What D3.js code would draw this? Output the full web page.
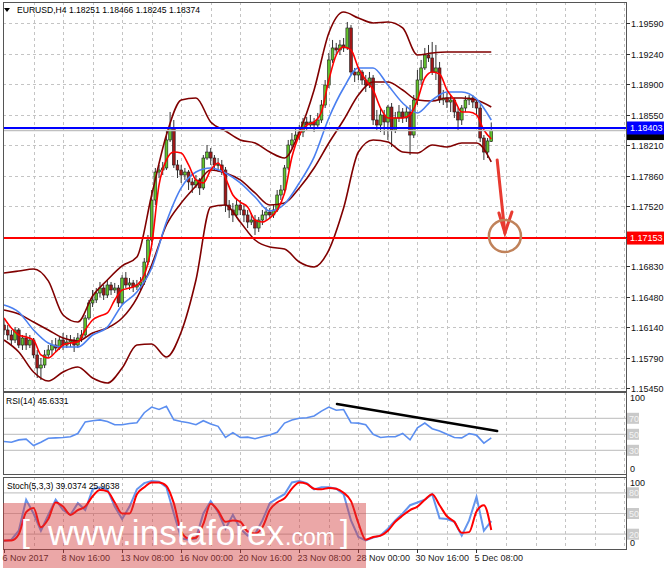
<!DOCTYPE html>
<html><head><meta charset="utf-8">
<script src="https://cdn.jsdelivr.net/npm/d3@7"></script>
<style>
body{margin:0;background:#fff}
svg{display:block}
text{font-family:"Liberation Sans",Arial,sans-serif}
</style>
</head><body>
<svg id="c" width="665" height="568"></svg>
<script>
// ---------------- DATA ----------------
const chartTitle = "EURUSD,H4  1.18251 1.18466 1.18245 1.18374";
const rsiTitle = "RSI(14) 45.6331";
const stochTitle = "Stoch(5,3,3) 39.0374 25.9638";
const timeLabels = ["6 Nov 2017","8 Nov 16:00","13 Nov 08:00","16 Nov 00:00","20 Nov 16:00","23 Nov 08:00","28 Nov 00:00","30 Nov 16:00","5 Dec 08:00"];
const timeLabelBars = [0,16,32,48,64,80,96,112,128];
const priceTicks = [1.19590,1.19240,1.18900,1.18550,1.18210,1.17860,1.17520,1.17170,1.16830,1.16480,1.16140,1.15790,1.15450];
const priceTickLabels = ["1.19590","1.19240","1.18900","1.18550","1.18210","1.17860","1.17520","1.17170","1.16830","1.16480","1.16140","1.15790","1.15450"];

const opens = [1.16165,1.16109,1.16052,1.15995,1.16109,1.15938,1.16018,1.15938,1.15995,1.15825,
1.15677,1.15711,1.15825,1.15882,1.15938,1.15904,1.15995,1.15938,1.15972,1.15995,
1.15938,1.16018,1.16052,1.16245,1.16416,1.16450,1.16529,1.16586,1.16506,1.16620,
1.16563,1.16586,1.16416,1.16699,1.16620,1.16643,1.16597,1.16620,1.16654,1.16881,
1.17131,1.17585,1.17903,1.17926,1.17949,1.18267,1.18403,1.17983,1.17926,1.17869,
1.17903,1.17790,1.17756,1.17813,1.17722,1.18062,1.18130,1.18062,1.17983,1.17983,
1.17926,1.17528,1.17472,1.17415,1.17528,1.17472,1.17415,1.17335,1.17358,1.17267,
1.17358,1.17415,1.17449,1.17415,1.17472,1.17642,1.17699,1.17949,1.18210,1.18267,
1.18323,1.18357,1.18471,1.18437,1.18471,1.18437,1.18494,1.18664,1.18891,1.19176,
1.19312,1.19289,1.19346,1.19312,1.19539,1.19039,1.19005,1.19039,1.18948,1.18891,
1.18971,1.18494,1.18437,1.18551,1.18471,1.18641,1.18380,1.18517,1.18585,1.18517,
1.18585,1.18323,1.18721,1.18948,1.19085,1.19232,1.19198,1.19039,1.19085,1.18721,
1.18744,1.18698,1.18721,1.18585,1.18494,1.18630,1.18721,1.18744,1.18698,1.18630,
1.18289,1.18130,1.18251];
const highs = [1.16245,1.16165,1.16109,1.16142,1.16131,1.16052,1.16075,1.16052,1.16018,1.15882,
1.15791,1.15882,1.15938,1.15995,1.16018,1.16029,1.16075,1.16052,1.16052,1.16029,
1.16075,1.16109,1.16279,1.16450,1.16563,1.16586,1.16654,1.16620,1.16677,1.16654,
1.16643,1.16620,1.16733,1.16767,1.16699,1.16677,1.16677,1.16710,1.16926,1.17188,
1.17699,1.17949,1.17983,1.18017,1.18380,1.18585,1.18494,1.18040,1.17983,1.17949,
1.17926,1.17835,1.17869,1.17835,1.18096,1.18210,1.18176,1.18096,1.18062,1.18040,
1.17960,1.17585,1.17551,1.17585,1.17585,1.17528,1.17472,1.17438,1.17415,1.17392,
1.17472,1.17505,1.17494,1.17528,1.17699,1.17756,1.17983,1.18267,1.18346,1.18403,
1.18437,1.18517,1.18528,1.18551,1.18517,1.18574,1.18721,1.18948,1.19255,1.19403,
1.19369,1.19403,1.19425,1.19607,1.19573,1.19085,1.19096,1.19062,1.19005,1.19039,
1.19005,1.18608,1.18630,1.18608,1.18664,1.18687,1.18585,1.18664,1.18630,1.18641,
1.18664,1.18778,1.19062,1.19176,1.19312,1.19346,1.19380,1.19346,1.19153,1.18835,
1.18801,1.18778,1.18744,1.18630,1.18664,1.18767,1.18778,1.18778,1.18744,1.18675,
1.18323,1.18289,1.18466];
const lows = [1.16052,1.15995,1.15938,1.15961,1.15904,1.15882,1.15882,1.15904,1.15791,1.15564,
1.15541,1.15677,1.15791,1.15825,1.15859,1.15882,1.15882,1.15904,1.15915,1.15859,
1.15904,1.15972,1.16018,1.16222,1.16370,1.16416,1.16483,1.16450,1.16472,1.16506,
1.16529,1.16370,1.16393,1.16586,1.16563,1.16540,1.16563,1.16563,1.16620,1.16847,
1.17108,1.17528,1.17835,1.17869,1.17926,1.18244,1.17949,1.17835,1.17779,1.17813,
1.17699,1.17665,1.17722,1.17642,1.17699,1.18040,1.17983,1.17926,1.17903,1.17869,
1.17449,1.17381,1.17335,1.17381,1.17415,1.17335,1.17267,1.17301,1.17188,1.17222,
1.17301,1.17358,1.17381,1.17381,1.17449,1.17585,1.17665,1.17926,1.18176,1.18233,
1.18267,1.18300,1.18380,1.18403,1.18357,1.18403,1.18460,1.18630,1.18857,1.19142,
1.19232,1.19232,1.19266,1.19289,1.19005,1.18925,1.18948,1.18891,1.18812,1.18857,
1.18437,1.18380,1.18357,1.18323,1.18267,1.18187,1.18346,1.18471,1.18460,1.18471,
1.18096,1.18289,1.18664,1.18891,1.19062,1.19153,1.19005,1.18948,1.18687,1.18664,
1.18630,1.18585,1.18517,1.18380,1.18437,1.18585,1.18664,1.18630,1.18551,1.18244,
1.18040,1.18062,1.18245];
const closes = [1.16109,1.16052,1.15995,1.16109,1.15938,1.16018,1.15938,1.15995,1.15825,1.15677,
1.15711,1.15825,1.15882,1.15938,1.15904,1.15995,1.15938,1.15972,1.15995,1.15938,
1.16018,1.16052,1.16245,1.16416,1.16450,1.16529,1.16586,1.16506,1.16620,1.16563,
1.16586,1.16416,1.16699,1.16620,1.16643,1.16597,1.16620,1.16654,1.16881,1.17131,
1.17585,1.17903,1.17926,1.17949,1.18267,1.18403,1.17983,1.17926,1.17869,1.17903,
1.17790,1.17756,1.17813,1.17722,1.18062,1.18130,1.18062,1.17983,1.17990,1.17926,
1.17528,1.17472,1.17415,1.17528,1.17472,1.17415,1.17335,1.17358,1.17267,1.17358,
1.17415,1.17449,1.17415,1.17472,1.17642,1.17699,1.17949,1.18210,1.18267,1.18323,
1.18357,1.18471,1.18437,1.18471,1.18437,1.18494,1.18664,1.18891,1.19176,1.19312,
1.19289,1.19346,1.19312,1.19539,1.19039,1.19005,1.19039,1.18948,1.18891,1.18971,
1.18494,1.18437,1.18551,1.18471,1.18641,1.18380,1.18517,1.18585,1.18517,1.18585,
1.18323,1.18721,1.18948,1.19085,1.19232,1.19198,1.19039,1.19085,1.18721,1.18744,
1.18698,1.18721,1.18585,1.18494,1.18630,1.18721,1.18744,1.18698,1.18630,1.18289,
1.18130,1.18256,1.18374];

// Bollinger bands and slow MA, read every 4th bar
const bandBars = d3.range(0, 133, 4);
const upperBand = [1.16756,1.16779,1.16802,1.16666,1.16279,1.16199,1.16495,1.16677,1.16836,1.16937,1.17642,1.18323,1.18721,1.18744,1.18471,1.18369,1.18267,1.18233,1.18130,1.18062,1.18357,1.18835,1.19482,1.19720,1.19652,1.19596,1.19607,1.19539,1.19232,1.19255,1.19266,1.19266,1.19266,1.19266];
const middleBand = [1.16336,1.16291,1.16199,1.16109,1.16018,1.15984,1.16075,1.16131,1.16245,1.16472,1.16847,1.17301,1.17551,1.17745,1.17926,1.17892,1.17813,1.17665,1.17528,1.17551,1.17722,1.17949,1.18233,1.18494,1.18778,1.18925,1.18925,1.18835,1.18721,1.18710,1.18744,1.18744,1.18721,1.18641];
const lowerBand = [1.15995,1.15859,1.15632,1.15530,1.15632,1.15688,1.15564,1.15507,1.15677,1.15938,1.15950,1.15802,1.16086,1.16677,1.17505,1.17528,1.17335,1.17131,1.17051,1.17029,1.16881,1.16824,1.17017,1.17494,1.18130,1.18267,1.18244,1.18130,1.18119,1.18210,1.18187,1.18233,1.18233,1.18017];
const slowMA = [1.16393,1.16313,1.16109,1.15961,1.15915,1.15915,1.16052,1.16142,1.16393,1.16540,1.16813,1.17335,1.17722,1.17903,1.17949,1.17892,1.17779,1.17619,1.17461,1.17540,1.17779,1.18073,1.18517,1.18857,1.19085,1.19085,1.18891,1.18687,1.18574,1.18721,1.18812,1.18812,1.18733,1.18494];
// fast MA and oscillators, read every 2nd bar
const fastBars = d3.range(0, 133, 2);
const fastMA = [1.16245,1.16131,1.16052,1.16029,1.15995,1.15825,1.15791,1.15859,1.15938,1.15961,
1.15972,1.16109,1.16222,1.16268,1.16302,1.16450,1.16563,1.16586,1.16620,1.16733,
1.17074,1.17756,1.18040,1.18130,1.18119,1.17983,1.17813,1.17779,1.17926,1.18006,
1.17835,1.17642,1.17562,1.17505,1.17358,1.17335,1.17381,1.17472,1.17665,1.18073,
1.18323,1.18437,1.18471,1.18585,1.18948,1.19232,1.19323,1.19289,1.19085,1.18948,
1.18835,1.18630,1.18517,1.18517,1.18517,1.18551,1.18721,1.18971,1.19039,1.19017,
1.18835,1.18721,1.18585,1.18585,1.18551,1.18380,1.18278];
const rsiValues = [41,40,43,44,36,40,45,45.5,46,47,
51,65.5,67,68,66,62,62,63.5,64.5,77,
84,81,85,68,66,64.5,62,67,63,60,
46,52,46,46.5,44.5,47,49,52.6,64,68,
70,70.6,73,79,84,80,81,64.5,64,62,
50,46,47,47,51,43,58,64,57,54,
50,46,45.5,51,49,39,45.6];
const stochK = [10,12,25,70,50,25,48,70,55,48,
65,55,85,88,85,60,42,60,85,94,
97,96,88,50,14,12,14,50,68,52,
28,48,28,18,20,40,65,72,78,95,
97,94,85,88,88,86,78,40,16,11,
15,18,28,40,50,62,66,70,78,43,
42,38,18,40,74,25,39];
const stochD = [11,11,20,52,58,30,42,66,60,48,
55,60,75,84,82,66,50,50,78,88,
95,95,90,65,24,14,15,35,64,54,
38,40,38,24,21,30,55,66,72,86,
95,93,86,85,87,86,80,68,36,12,
16,18,25,38,47,55,60,70,78,62,
46,38,22,23,53,62,26];
const rsiLevels = [70,50,30];
const stochLevels = [80,50,20];
const blueLevel = 1.18403, redLevel = 1.17153, bidLevel = 1.18374;
// annotations (bar index, value)
const rsiTrend = [[90.2, 88], [133.6, 54]];
const arrowFrom = [133.6, 1.18040], arrowTo = [135.7, 1.17210];
const circleAt = [135.7, 1.17176];

// ---------------- LAYOUT ----------------
const svg = d3.select("#c");
const L = 3, R = 626;
const main = {top: 2, bottom: 391};
const rsiP = {top: 392, bottom: 474};
const stP = {top: 477, bottom: 549};
const x = d3.scaleLinear().domain([0, 168.5]).range([4, 626]);
const y = d3.scaleLinear().domain([1.15416, 1.19834]).range([391, 2]);
const yR = d3.scaleLinear().domain([0, 100]).range([474.3, 394.3]);
const yS = d3.scaleLinear().domain([0, 100]).range([548, 479]);

const defs = svg.append("defs");
[["cm", main], ["cr", rsiP], ["cs", stP]].forEach(([id, p]) => {
  defs.append("clipPath").attr("id", id).append("rect")
    .attr("x", L).attr("y", p.top).attr("width", R - L).attr("height", p.bottom - p.top);
});

const gridCol = "#c4c4c4";
const gridBars = d3.range(8, 169, 8);
[main, rsiP, stP].forEach(p => {
  svg.append("g").selectAll("line").data(gridBars).join("line")
    .attr("x1", d => Math.round(x(d)) + 0.5).attr("x2", d => Math.round(x(d)) + 0.5)
    .attr("y1", p.top).attr("y2", p.bottom)
    .attr("stroke", gridCol).attr("stroke-dasharray", "3,3");
});
svg.append("g").selectAll("line").data(priceTicks).join("line")
  .attr("x1", L).attr("x2", R)
  .attr("y1", d => Math.round(y(d)) + 0.5).attr("y2", d => Math.round(y(d)) + 0.5)
  .attr("stroke", gridCol).attr("stroke-dasharray", "3,3");
svg.append("g").selectAll("line").data(rsiLevels).join("line")
  .attr("x1", L).attr("x2", R).attr("y1", d => yR(d)).attr("y2", d => yR(d))
  .attr("stroke", "#c8c8c8").attr("stroke-width", 1.2);
svg.append("g").selectAll("line").data(stochLevels).join("line")
  .attr("x1", L).attr("x2", R).attr("y1", d => yS(d)).attr("y2", d => yS(d))
  .attr("stroke", "#c8c8c8").attr("stroke-width", 1.2);

// ---------------- MAIN PANEL ----------------
const gm = svg.append("g").attr("clip-path", "url(#cm)");
const candles = closes.map((c, i) => ({i, o: opens[i], h: highs[i], l: lows[i], c}));
gm.append("g").selectAll("line").data(candles).join("line")
  .attr("x1", d => x(d.i)).attr("x2", d => x(d.i))
  .attr("y1", d => y(d.h)).attr("y2", d => y(d.l))
  .attr("stroke", "#333").attr("stroke-width", 1);
gm.append("g").selectAll("rect").data(candles).join("rect")
  .attr("x", d => x(d.i) - 1.4).attr("width", 2.8)
  .attr("y", d => y(Math.max(d.o, d.c)))
  .attr("height", d => Math.max(1, Math.abs(y(d.o) - y(d.c))))
  .attr("fill", d => d.c >= d.o ? "#62c22c" : "#a01818")
  .attr("stroke", "#1a1a1a").attr("stroke-width", 0.6);

const lineP = (xs, vals, ys) => d3.line().curve(d3.curveMonotoneX)
  .x((d, k) => x(xs[k])).y(d => ys(d))(vals);
[upperBand, middleBand, lowerBand].forEach(b => {
  gm.append("path").attr("d", lineP(bandBars, b, y)).attr("fill", "none")
    .attr("stroke", "#800000").attr("stroke-width", 1.6);
});
gm.append("path").attr("d", lineP(bandBars, slowMA, y)).attr("fill", "none")
  .attr("stroke", "#4a7ff0").attr("stroke-width", 1.6);
gm.append("path").attr("d", lineP(fastBars, fastMA, y)).attr("fill", "none")
  .attr("stroke", "#ff0000").attr("stroke-width", 1.6);

svg.append("line").attr("x1", L).attr("x2", R).attr("y1", y(bidLevel)).attr("y2", y(bidLevel))
  .attr("stroke", "#c0c0c0").attr("stroke-width", 1.5);
svg.append("line").attr("x1", L).attr("x2", R).attr("y1", y(blueLevel)).attr("y2", y(blueLevel))
  .attr("stroke", "#0000ff").attr("stroke-width", 2);
svg.append("line").attr("x1", L).attr("x2", R).attr("y1", y(redLevel)).attr("y2", y(redLevel))
  .attr("stroke", "#ff0000").attr("stroke-width", 2);

const ac = "#e83a30";
svg.append("line").attr("x1", x(arrowFrom[0])).attr("y1", y(arrowFrom[1]))
  .attr("x2", x(arrowTo[0])).attr("y2", y(arrowTo[1]))
  .attr("stroke", ac).attr("stroke-width", 3).attr("stroke-linecap", "round");
svg.append("path")
  .attr("d", `M${x(arrowTo[0]) - 6},${y(arrowTo[1]) - 20} L${x(arrowTo[0])},${y(arrowTo[1])} L${x(arrowTo[0]) + 7},${y(arrowTo[1]) - 21}`)
  .attr("fill", "none").attr("stroke", ac).attr("stroke-width", 3).attr("stroke-linecap", "round");
svg.append("circle").attr("cx", x(circleAt[0])).attr("cy", y(circleAt[1])).attr("r", 16)
  .attr("fill", "none").attr("stroke", "#c0825a").attr("stroke-width", 2.5);

// ---------------- RSI ----------------
const gr = svg.append("g").attr("clip-path", "url(#cr)");
gr.append("path").attr("d", d3.line().x((d, k) => x(fastBars[k])).y(d => yR(d))(rsiValues))
  .attr("fill", "none").attr("stroke", "#5b8ef0").attr("stroke-width", 1.6);
gr.append("line").attr("x1", x(rsiTrend[0][0])).attr("y1", yR(rsiTrend[0][1]))
  .attr("x2", x(rsiTrend[1][0])).attr("y2", yR(rsiTrend[1][1]))
  .attr("stroke", "#000").attr("stroke-width", 2.5).attr("stroke-linecap", "round");

// ---------------- STOCH ----------------
const gs = svg.append("g").attr("clip-path", "url(#cs)");
gs.append("path").attr("d", d3.line().x((d, k) => x(fastBars[k])).y(d => yS(d))(stochK))
  .attr("fill", "none").attr("stroke", "#6495ed").attr("stroke-width", 2);
gs.append("path").attr("d", d3.line().curve(d3.curveMonotoneX).x((d, k) => x(fastBars[k])).y(d => yS(d))(stochD))
  .attr("fill", "none").attr("stroke", "#ff0000").attr("stroke-width", 2);

// ---------------- FRAMES & AXES ----------------
[main, rsiP, stP].forEach(p => {
  svg.append("rect").attr("x", L + 0.5).attr("y", p.top + 0.5).attr("width", R - L)
    .attr("height", p.bottom - p.top).attr("fill", "none").attr("stroke", "#555").attr("stroke-width", 1);
});
svg.append("line").attr("x1", R + 0.5).attr("x2", R + 0.5).attr("y1", 2).attr("y2", 549)
  .attr("stroke", "#555");

const fs = 9;
const ga = svg.append("g");
priceTicks.forEach((v, k) => {
  const yy = Math.round(y(v)) + 0.5;
  ga.append("line").attr("x1", R).attr("x2", R + 4).attr("y1", yy).attr("y2", yy).attr("stroke", "#333");
  ga.append("text").attr("x", 631).attr("y", yy + 3.2).attr("font-size", fs).attr("fill", "#111").text(priceTickLabels[k]);
});
function tag(v, col, txt, dy) {
  const yy = y(v) + (dy || 0);
  svg.append("rect").attr("x", R + 1).attr("y", yy - 6.5).attr("width", 37).attr("height", 13).attr("fill", col);
  if (txt) svg.append("text").attr("x", 630).attr("y", yy + 3.3).attr("font-size", fs).attr("fill", "#fff").text(txt);
}
tag(bidLevel, "#000", null, 3);
tag(blueLevel, "#0000ff", "1.18403");
tag(redLevel, "#ff0000", "1.17153");

function oscLabels(ys, levels) {
  svg.append("text").attr("x", 630).attr("y", ys(100) + 7).attr("font-size", fs).attr("fill", "#111").text("100");
  svg.append("text").attr("x", 630).attr("y", ys(0) - 2).attr("font-size", fs).attr("fill", "#111").text("0");
  levels.forEach(l => {
    svg.append("rect").attr("x", R + 1).attr("y", ys(l) - 5.5).attr("width", 12).attr("height", 11).attr("fill", "#c9c9c9");
    svg.append("text").attr("x", 629).attr("y", ys(l) + 3.3).attr("font-size", fs).attr("fill", "#f4f4f4").text(l);
  });
}
oscLabels(yR, rsiLevels);
oscLabels(yS, stochLevels);

svg.append("path").attr("d", "M4,8 L10,8 L7,12 Z").attr("fill", "#000");
svg.append("text").attr("x", 17).attr("y", 13).attr("font-size", fs).attr("fill", "#000")
  .attr("textLength", 183).attr("lengthAdjust", "spacingAndGlyphs").text(chartTitle);
svg.append("text").attr("x", 6).attr("y", 404).attr("font-size", 8.5).attr("fill", "#000").text(rsiTitle);
svg.append("text").attr("x", 7).attr("y", 489).attr("font-size", 8.5).attr("fill", "#000").text(stochTitle);

timeLabelBars.forEach((b, k) => {
  const xx = Math.round(x(b)) + 0.5;
  svg.append("line").attr("x1", xx).attr("x2", xx).attr("y1", 549).attr("y2", 553).attr("stroke", "#333");
  svg.append("text").attr("x", xx - 2).attr("y", 561).attr("font-size", fs).attr("fill", "#222").text(timeLabels[k]);
});

// watermark
svg.append("rect").attr("x", 3).attr("y", 503).attr("width", 363).attr("height", 65)
  .attr("fill", "rgb(210,60,60)").attr("opacity", 0.45);
const wm = svg.append("g").attr("fill", "#fff").style("font-family", "'Open Sans','Noto Sans',sans-serif").attr("font-weight", 300);
wm.append("text").attr("x", 21).attr("y", 542).attr("font-size", 32).text("[");
wm.append("text").attr("x", 48).attr("y", 545).attr("font-size", 35).attr("textLength", 236).attr("lengthAdjust", "spacingAndGlyphs").text("www.instaforex");
wm.append("text").attr("x", 285).attr("y", 545).attr("font-size", 23).text(".com");
wm.append("text").attr("x", 340).attr("y", 542).attr("font-size", 32).text("]");
</script>
</body></html>
